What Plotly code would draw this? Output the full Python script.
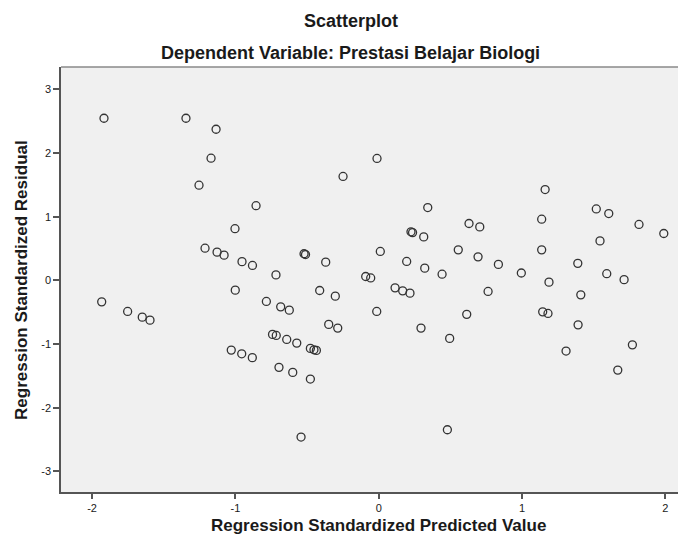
import plotly.graph_objects as go

# Regression Standardized Predicted Value
pred = [-1.917, -1.345, -1.135, -1.170, -1.254, -0.856, -1.003, -1.212, -1.128, -1.079,
        -0.954, -0.881, -0.717, -0.012, -0.249, 0.342, 0.630, 0.225, 0.236, 0.314,
        -0.521, -0.511, 0.011, -0.370, 0.195, 0.555, 0.321, 0.442, -0.091, -0.056,
        1.161, 1.518, 1.605, 1.816, 1.989, 1.137, 1.544, 0.705, 1.137, 0.693,
        0.835, 0.995, 1.389, 1.591, 1.712, 1.188, -1.933, -1.752, -1.650, -1.596,
        -1.001, -0.784, -0.412, -0.303, 0.114, 0.167, 0.218, -0.014, 0.614, -0.684,
        -0.624, -0.349, -0.286, 0.295, 0.495, -0.741, -0.715, -0.642, -0.572, -0.477,
        -0.452, -0.435, -1.029, -0.956, -0.882, -0.696, -0.600, -0.477, -0.542, 0.479,
        0.763, 1.410, 1.144, 1.181, 1.391, 1.307, 1.770, 1.668]

# Regression Standardized Residual
resid = [2.547, 2.547, 2.374, 1.919, 1.495, 1.173, 0.812, 0.505, 0.443, 0.396,
         0.294, 0.234, 0.086, 1.915, 1.633, 1.144, 0.893, 0.763, 0.750, 0.683,
         0.418, 0.405, 0.454, 0.286, 0.297, 0.479, 0.192, 0.097, 0.061, 0.038,
         1.427, 1.122, 1.050, 0.878, 0.736, 0.961, 0.620, 0.840, 0.479, 0.369,
         0.251, 0.116, 0.267, 0.105, 0.011, -0.028, -0.338, -0.488, -0.578, -0.625,
         -0.154, -0.331, -0.159, -0.248, -0.118, -0.165, -0.201, -0.488, -0.534, -0.416,
         -0.468, -0.692, -0.750, -0.750, -0.912, -0.849, -0.865, -0.928, -0.986, -1.069,
         -1.091, -1.100, -1.096, -1.154, -1.214, -1.367, -1.446, -1.551, -2.462, -2.347,
         -0.174, -0.228, -0.495, -0.520, -0.699, -1.111, -1.013, -1.410]

x_ticks = [-2, -1, 0, 1, 2]
y_ticks = [-3, -2, -1, 0, 1, 2, 3]

title_main = "Scatterplot"
title_sub = "Dependent Variable: Prestasi Belajar Biologi"
x_title = "Regression Standardized Predicted Value"
y_title = "Regression Standardized Residual"

FONT = "Liberation Sans, Arial, sans-serif"
AXIS_COL = "#555555"

fig = go.Figure(
    go.Scatter(
        x=pred, y=resid, mode="markers",
        marker=dict(symbol="circle-open", size=8, color="#333333", line=dict(width=1.3)),
        hoverinfo="skip",
    )
)

# the page body adds an 8px offset, so the figure is sized/margined to compensate
fig.update_layout(
    width=678, height=537,
    margin=dict(l=53, r=1, t=59, b=53),
    paper_bgcolor="white",
    plot_bgcolor="#F0F0F0",
    showlegend=False,
    font=dict(family=FONT, color="#1a1a1a"),
    xaxis=dict(
        range=[-2.217, 2.137], tickvals=x_ticks, ticktext=[str(v) for v in x_ticks],
        ticks="outside", ticklen=5, tickwidth=1.5, tickcolor=AXIS_COL,
        showline=True, linecolor=AXIS_COL, linewidth=1.5,
        showgrid=False, zeroline=False, tickfont=dict(size=11, family=FONT, color="#1a1a1a"),
    ),
    yaxis=dict(
        range=[-3.325, 3.352], tickvals=y_ticks, ticktext=[str(v) for v in y_ticks],
        ticks="outside", ticklen=6, tickwidth=1.5, tickcolor=AXIS_COL,
        showline=True, linecolor=AXIS_COL, linewidth=1.5,
        showgrid=False, zeroline=False, tickfont=dict(size=11, family=FONT, color="#1a1a1a"),
    ),
    shapes=[dict(type="line", xref="paper", yref="paper", x0=0, x1=1, y0=1, y1=1,
                 line=dict(color="#8a8a8a", width=1.5))],
    annotations=[
        dict(text=f"<b>{title_main}</b>", xref="paper", yref="paper", x=0.4647, y=1.108,
             xanchor="center", yanchor="middle", showarrow=False, font=dict(size=18, family=FONT)),
        dict(text=f"<b>{title_sub}</b>", xref="paper", yref="paper", x=0.4647, y=1.033,
             xanchor="center", yanchor="middle", showarrow=False, font=dict(size=18, family=FONT)),
        dict(text=f"<b>{x_title}</b>", xref="paper", yref="paper", x=0.5096, y=-0.079,
             xanchor="center", yanchor="middle", showarrow=False, font=dict(size=17, family=FONT)),
        dict(text=f"<b>{y_title}</b>", xref="paper", yref="paper", x=-0.0625, y=0.499,
             xanchor="center", yanchor="middle", showarrow=False, textangle=-90,
             font=dict(size=17, family=FONT)),
    ],
)

fig.write_html("out.html")
